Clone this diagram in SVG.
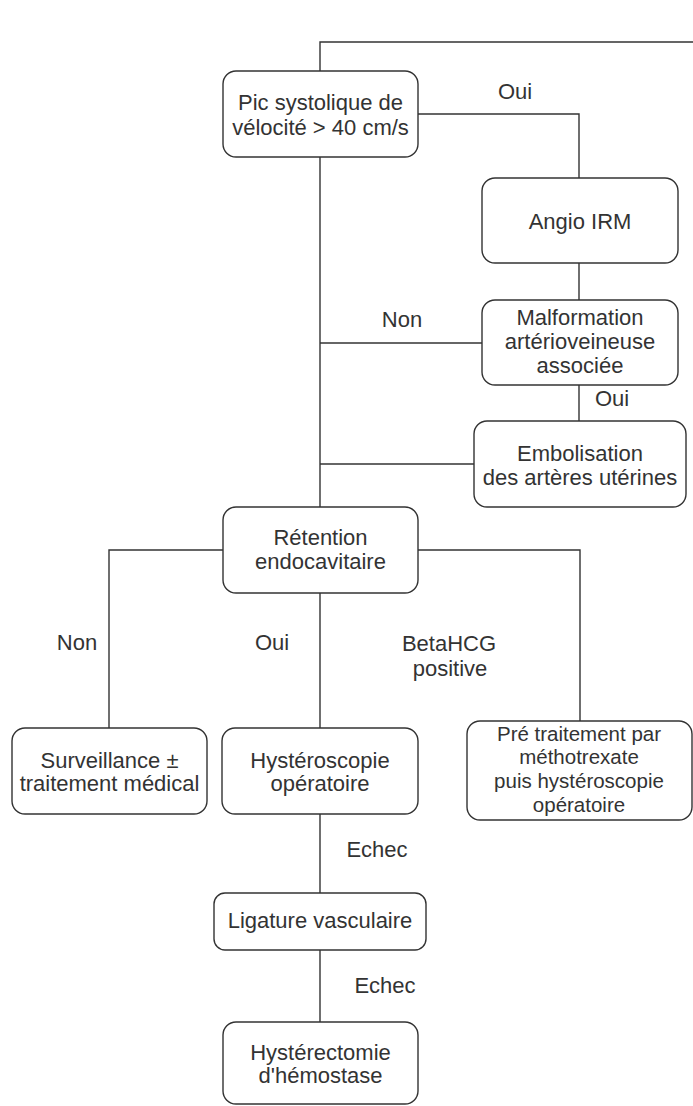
<svg xmlns="http://www.w3.org/2000/svg" width="693" height="1106" viewBox="0 0 693 1106">
  <style>
    .box { fill: #ffffff; stroke: #333333; stroke-width: 1.4; }
    .edge { fill: none; stroke: #333333; stroke-width: 1.4; }
    text { font-family: "Liberation Sans", Arial, sans-serif; font-size: 22px; fill: #333333; text-anchor: middle; }
    .tight { font-size: 20.5px; }
  </style>
  <rect width="693" height="1106" fill="#ffffff"/>

  <!-- connectors -->
  <g id="connectors">
    <path class="edge" d="M320 71 V42 H693"/>
    <path class="edge" d="M418 114 H579 V178"/>
    <path class="edge" d="M579 263 V300"/>
    <path class="edge" d="M579 385 V421"/>
    <path class="edge" d="M320 157 V507"/>
    <path class="edge" d="M320 343 H482"/>
    <path class="edge" d="M320 464 H474"/>
    <path class="edge" d="M223 550 H109 V728"/>
    <path class="edge" d="M418 550 H580 V721"/>
    <path class="edge" d="M320 593 V728"/>
    <path class="edge" d="M320 814 V893"/>
    <path class="edge" d="M320 950 V1022"/>
  </g>

  <!-- edge labels -->
  <g id="labels">
    <text x="515" y="99">Oui</text>
    <text x="402" y="327">Non</text>
    <text x="612" y="406">Oui</text>
    <text x="77" y="650">Non</text>
    <text x="272" y="650">Oui</text>
    <text x="449" y="651">BetaHCG</text>
    <text x="450" y="676">positive</text>
    <text x="377" y="857">Echec</text>
    <text x="385" y="993">Echec</text>
  </g>

  <g id="pic">
    <rect class="box" x="223" y="71" width="195" height="86" rx="13"/>
    <text x="320.5" y="110">Pic systolique de</text>
    <text x="320.5" y="135">vélocité &gt; 40 cm/s</text>
  </g>

  <g id="angio">
    <rect class="box" x="482" y="178" width="196" height="85" rx="13"/>
    <text x="580" y="229">Angio IRM</text>
  </g>

  <g id="malformation">
    <rect class="box" x="482" y="300" width="196" height="85" rx="13"/>
    <text x="580" y="325">Malformation</text>
    <text x="580" y="349">artérioveineuse</text>
    <text x="580" y="373">associée</text>
  </g>

  <g id="embolisation">
    <rect class="box" x="474" y="421" width="212" height="86" rx="13"/>
    <text x="580" y="461">Embolisation</text>
    <text x="580" y="485">des artères utérines</text>
  </g>

  <g id="retention">
    <rect class="box" x="223" y="507" width="195" height="86" rx="13"/>
    <text x="320.5" y="545">Rétention</text>
    <text x="320.5" y="569">endocavitaire</text>
  </g>

  <g id="surveillance">
    <rect class="box" x="12" y="728" width="195" height="86" rx="13"/>
    <text x="109.5" y="768">Surveillance ±</text>
    <text x="109.5" y="791">traitement médical</text>
  </g>

  <g id="hysteroscopie">
    <rect class="box" x="222" y="728" width="196" height="86" rx="13"/>
    <text x="320" y="768">Hystéroscopie</text>
    <text x="320" y="791">opératoire</text>
  </g>

  <g id="pretraitement">
    <rect class="box" x="467" y="721" width="225" height="99" rx="13"/>
    <text class="tight" x="579" y="740.5">Pré traitement par</text>
    <text class="tight" x="579" y="764.2">méthotrexate</text>
    <text class="tight" x="579" y="787.9">puis hystéroscopie</text>
    <text class="tight" x="579" y="811.6">opératoire</text>
  </g>

  <g id="ligature">
    <rect class="box" x="214" y="893" width="212" height="57" rx="11"/>
    <text x="320" y="928">Ligature vasculaire</text>
  </g>

  <g id="hysterectomie">
    <rect class="box" x="223" y="1022" width="195" height="82" rx="13"/>
    <text x="320.5" y="1060">Hystérectomie</text>
    <text x="320.5" y="1083">d'hémostase</text>
  </g>
</svg>
